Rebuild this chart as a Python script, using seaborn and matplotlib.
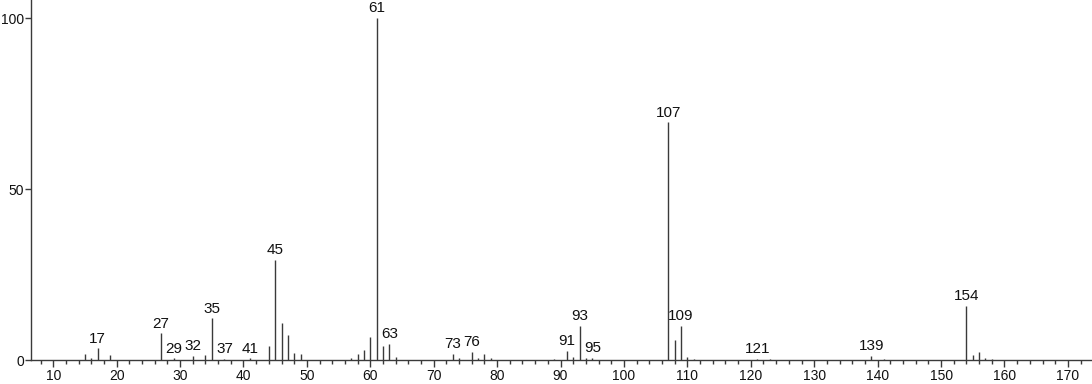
import matplotlib
matplotlib.use("Agg")
import matplotlib.pyplot as plt
import seaborn as sns
import numpy as np
from matplotlib.ticker import MultipleLocator

mz = [15, 16, 17, 19, 27, 29, 32, 34, 35, 37, 41, 44, 45, 46, 47, 48, 49,
      57, 58, 59, 60, 61, 62, 63, 64, 73, 74, 76, 77, 78, 79, 89, 91, 92, 93,
      94, 95, 107, 108, 109, 110, 111, 121, 123, 139, 141, 154, 155, 156, 157, 158]
intensity = [1.7, 0.5, 3.4, 1.5, 7.8, 0.5, 1.3, 1.5, 12.2, 0.4, 0.5, 4.1, 29.2, 10.8, 7.3, 2.0, 1.7,
             0.5, 1.9, 2.9, 6.7, 100.0, 4.1, 4.7, 0.9, 1.7, 0.5, 2.3, 0.7, 1.8, 0.5, 0.4, 2.6, 0.9, 9.9,
             0.5, 0.6, 69.5, 5.8, 10.0, 0.8, 0.3, 0.3, 0.3, 1.3, 0.4, 15.9, 1.5, 2.2, 0.6, 0.4]
labeled = [17, 27, 29, 32, 35, 37, 41, 45, 61, 63, 73, 76, 91, 93, 95, 107, 109, 121, 139, 154]
y_ticks = [0, 50, 100]
x_ticks = list(range(10, 180, 10))

sns.set_theme(style="ticks")
plt.rcParams['font.family'] = ['Liberation Sans', 'DejaVu Sans']

fig = plt.figure(figsize=(10.92, 3.84), dpi=100)
ax = fig.add_axes([31 / 1092, 24 / 384, 1 - 31 / 1092, 360 / 384])

col = "#3a3a3a"
ax.vlines(mz, 0, intensity, color=col, linewidth=1.0)
lookup = dict(zip(mz, intensity))
for m in labeled:
    ax.annotate(str(m), (m, lookup[m]), xytext=(0, 2), textcoords="offset points",
                ha="center", va="bottom", fontsize=11, color="#111111")

ax.set_xlim(6.5, 173.8)
ax.set_ylim(0, 105.3)
ax.set_xticks(x_ticks)
ax.set_yticks(y_ticks)
ax.xaxis.set_minor_locator(MultipleLocator(2))
ax.tick_params(axis="both", which="major", labelsize=10, width=1, color=col, labelcolor="#111111")
ax.tick_params(axis="x", which="major", length=4.8, pad=2)
ax.tick_params(axis="y", which="major", length=4.5, pad=0.5)
ax.tick_params(axis="x", which="minor", length=2.8, width=1, color=col)
for s in ["top", "right"]:
    ax.spines[s].set_visible(False)
for s in ["left", "bottom"]:
    ax.spines[s].set_color(col)
    ax.spines[s].set_linewidth(1.0)
ax.grid(False)

fig.savefig("out.png", dpi=100)
